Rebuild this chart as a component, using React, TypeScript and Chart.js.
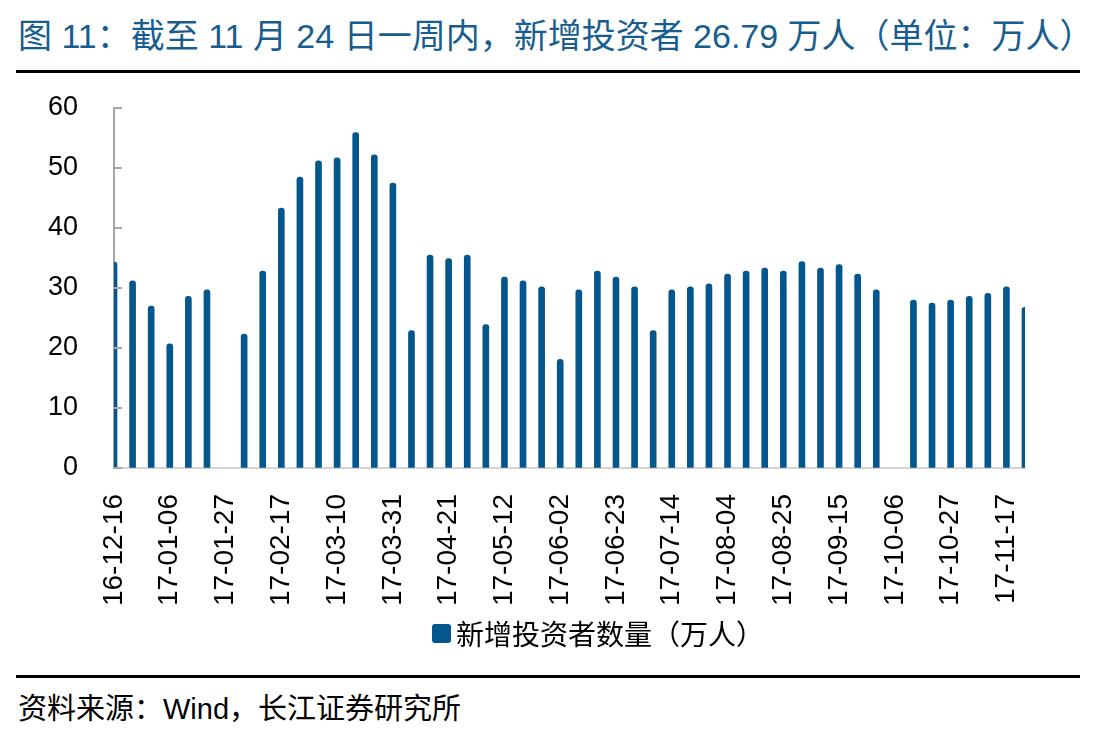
import React, { useEffect, useRef } from "react";
import { Chart, registerables } from "chart.js";

Chart.register(...registerables);

const categories: string[] = [
  "16-12-16", "16-12-23", "16-12-30", "17-01-06", "17-01-13", "17-01-20", "17-01-27",
  "17-02-03", "17-02-10", "17-02-17", "17-02-24", "17-03-03", "17-03-10", "17-03-17",
  "17-03-24", "17-03-31", "17-04-07", "17-04-14", "17-04-21", "17-04-28", "17-05-05",
  "17-05-12", "17-05-19", "17-05-26", "17-06-02", "17-06-09", "17-06-16", "17-06-23",
  "17-06-30", "17-07-07", "17-07-14", "17-07-21", "17-07-28", "17-08-04", "17-08-11",
  "17-08-18", "17-08-25", "17-09-01", "17-09-08", "17-09-15", "17-09-22", "17-09-29",
  "17-10-06", "17-10-13", "17-10-20", "17-10-27", "17-11-03", "17-11-10", "17-11-17",
  "17-11-24",
];

const newInvestors: (number | null)[] = [
  34.3, 31.2, 27.0, 20.7, 28.6, 29.7, null,
  22.3, 32.8, 43.3, 48.5, 51.2, 51.7, 55.9,
  52.2, 47.5, 22.9, 35.5, 34.9, 35.5, 23.9,
  31.8, 31.2, 30.2, 18.1, 29.7, 32.8, 31.8,
  30.2, 22.9, 29.7, 30.2, 30.7, 32.3, 32.8,
  33.3, 32.8, 34.4, 33.3, 33.9, 32.3, 29.7,
  null, 28.0, 27.5, 28.0, 28.6, 29.1, 30.2,
  26.79,
];

const yMin = 0;
const yMax = 60;
const yStep = 10;
const labelEvery = 3;

const titleText = "图 11：截至 11 月 24 日一周内，新增投资者 26.79 万人（单位：万人）";
const seriesName = "新增投资者数量（万人）";
const sourceText = "资料来源：Wind，长江证券研究所";

const BAR_COLOR = "#04578c";
const AXIS_GRAY = "#a6a6a6";
const FONT = "'Liberation Sans', Arial, 'Noto Sans CJK SC', sans-serif";

const innerTicks = {
  id: "innerTicks",
  afterDraw(chart: any) {
    const ys = chart.scales.y;
    const { left } = chart.chartArea;
    const ctx = chart.ctx;
    ctx.save();
    ctx.strokeStyle = AXIS_GRAY;
    ctx.lineWidth = 2;
    ys.ticks.forEach((t: any) => {
      const py = Math.round(ys.getPixelForValue(t.value));
      ctx.beginPath();
      ctx.moveTo(left - 1, py);
      ctx.lineTo(left + 8, py);
      ctx.stroke();
    });
    ctx.restore();
  },
};

export default function App() {
  const canvasRef = useRef<HTMLCanvasElement | null>(null);

  useEffect(() => {
    if (!canvasRef.current) return;
    const chart = new Chart(canvasRef.current, {
      type: "bar",
      data: {
        labels: categories,
        datasets: [
          {
            label: seriesName,
            data: newInvestors,
            backgroundColor: BAR_COLOR,
            borderWidth: 0,
            barThickness: 6,
            borderRadius: 3,
            borderSkipped: "start",
          },
        ],
      },
      options: {
        animation: false,
        responsive: false,
        maintainAspectRatio: false,
        layout: { padding: { left: 0, right: 74, top: 28, bottom: 12 } },
        plugins: {
          legend: { display: false },
          tooltip: { enabled: false },
          title: { display: false },
        },
        scales: {
          x: {
            type: "category",
            offset: false,
            grid: { display: true, drawOnChartArea: false, drawTicks: false },
            border: { display: true, color: "#d4d4d4", width: 2 },
            ticks: {
              autoSkip: false,
              minRotation: 90,
              maxRotation: 90,
              padding: 26,
              color: "#000",
              font: { size: 28, family: FONT },
              callback: (_v: any, i: number) => (i % labelEvery === 0 ? categories[i] : ""),
            },
            afterFit: (scale: any) => {
              scale.height = 140;
            },
          },
          y: {
            min: yMin,
            max: yMax,
            grid: { display: true, drawOnChartArea: false, drawTicks: false },
            border: { display: true, color: AXIS_GRAY, width: 2 },
            ticks: {
              stepSize: yStep,
              padding: 36,
              color: "#000",
              font: { size: 27, family: FONT },
            },
            afterFit: (scale: any) => {
              scale.width = 114;
              scale.paddingTop = 0;
              scale.paddingBottom = 0;
            },
          },
        },
      },
      plugins: [innerTicks],
    });
    return () => chart.destroy();
  }, []);

  return (
    <div
      style={{
        position: "fixed",
        left: 0,
        top: 0,
        width: 1099,
        height: 744,
        background: "#fff",
        overflow: "hidden",
        fontFamily: FONT,
      }}
    >
      <div
        style={{
          position: "absolute",
          left: 18,
          top: 15,
          fontSize: 34,
          lineHeight: "42px",
          color: "#185d8f",
          whiteSpace: "nowrap",
          fontFamily: FONT,
        }}
      >
        {titleText}
      </div>
      <div style={{ position: "absolute", left: 16, top: 70, width: 1064, height: 3, background: "#000" }} />
      <canvas
        ref={canvasRef}
        width={1099}
        height={540}
        style={{ position: "absolute", left: 0, top: 80, width: 1099, height: 540 }}
      />
      <div
        style={{
          position: "absolute",
          left: 432,
          top: 614,
          height: 38,
          display: "flex",
          alignItems: "center",
          whiteSpace: "nowrap",
        }}
      >
        <span
          style={{
            display: "inline-block",
            width: 19,
            height: 19,
            borderRadius: 3,
            background: BAR_COLOR,
            marginRight: 5,
          }}
        />
        <span style={{ fontSize: 28, color: "#000", fontFamily: FONT }}>{seriesName}</span>
      </div>
      <div style={{ position: "absolute", left: 16, top: 675, width: 1064, height: 3, background: "#000" }} />
      <div
        style={{
          position: "absolute",
          left: 18,
          top: 690,
          fontSize: 29,
          lineHeight: "38px",
          color: "#000",
          whiteSpace: "nowrap",
          fontFamily: FONT,
        }}
      >
        {sourceText}
      </div>
    </div>
  );
}
